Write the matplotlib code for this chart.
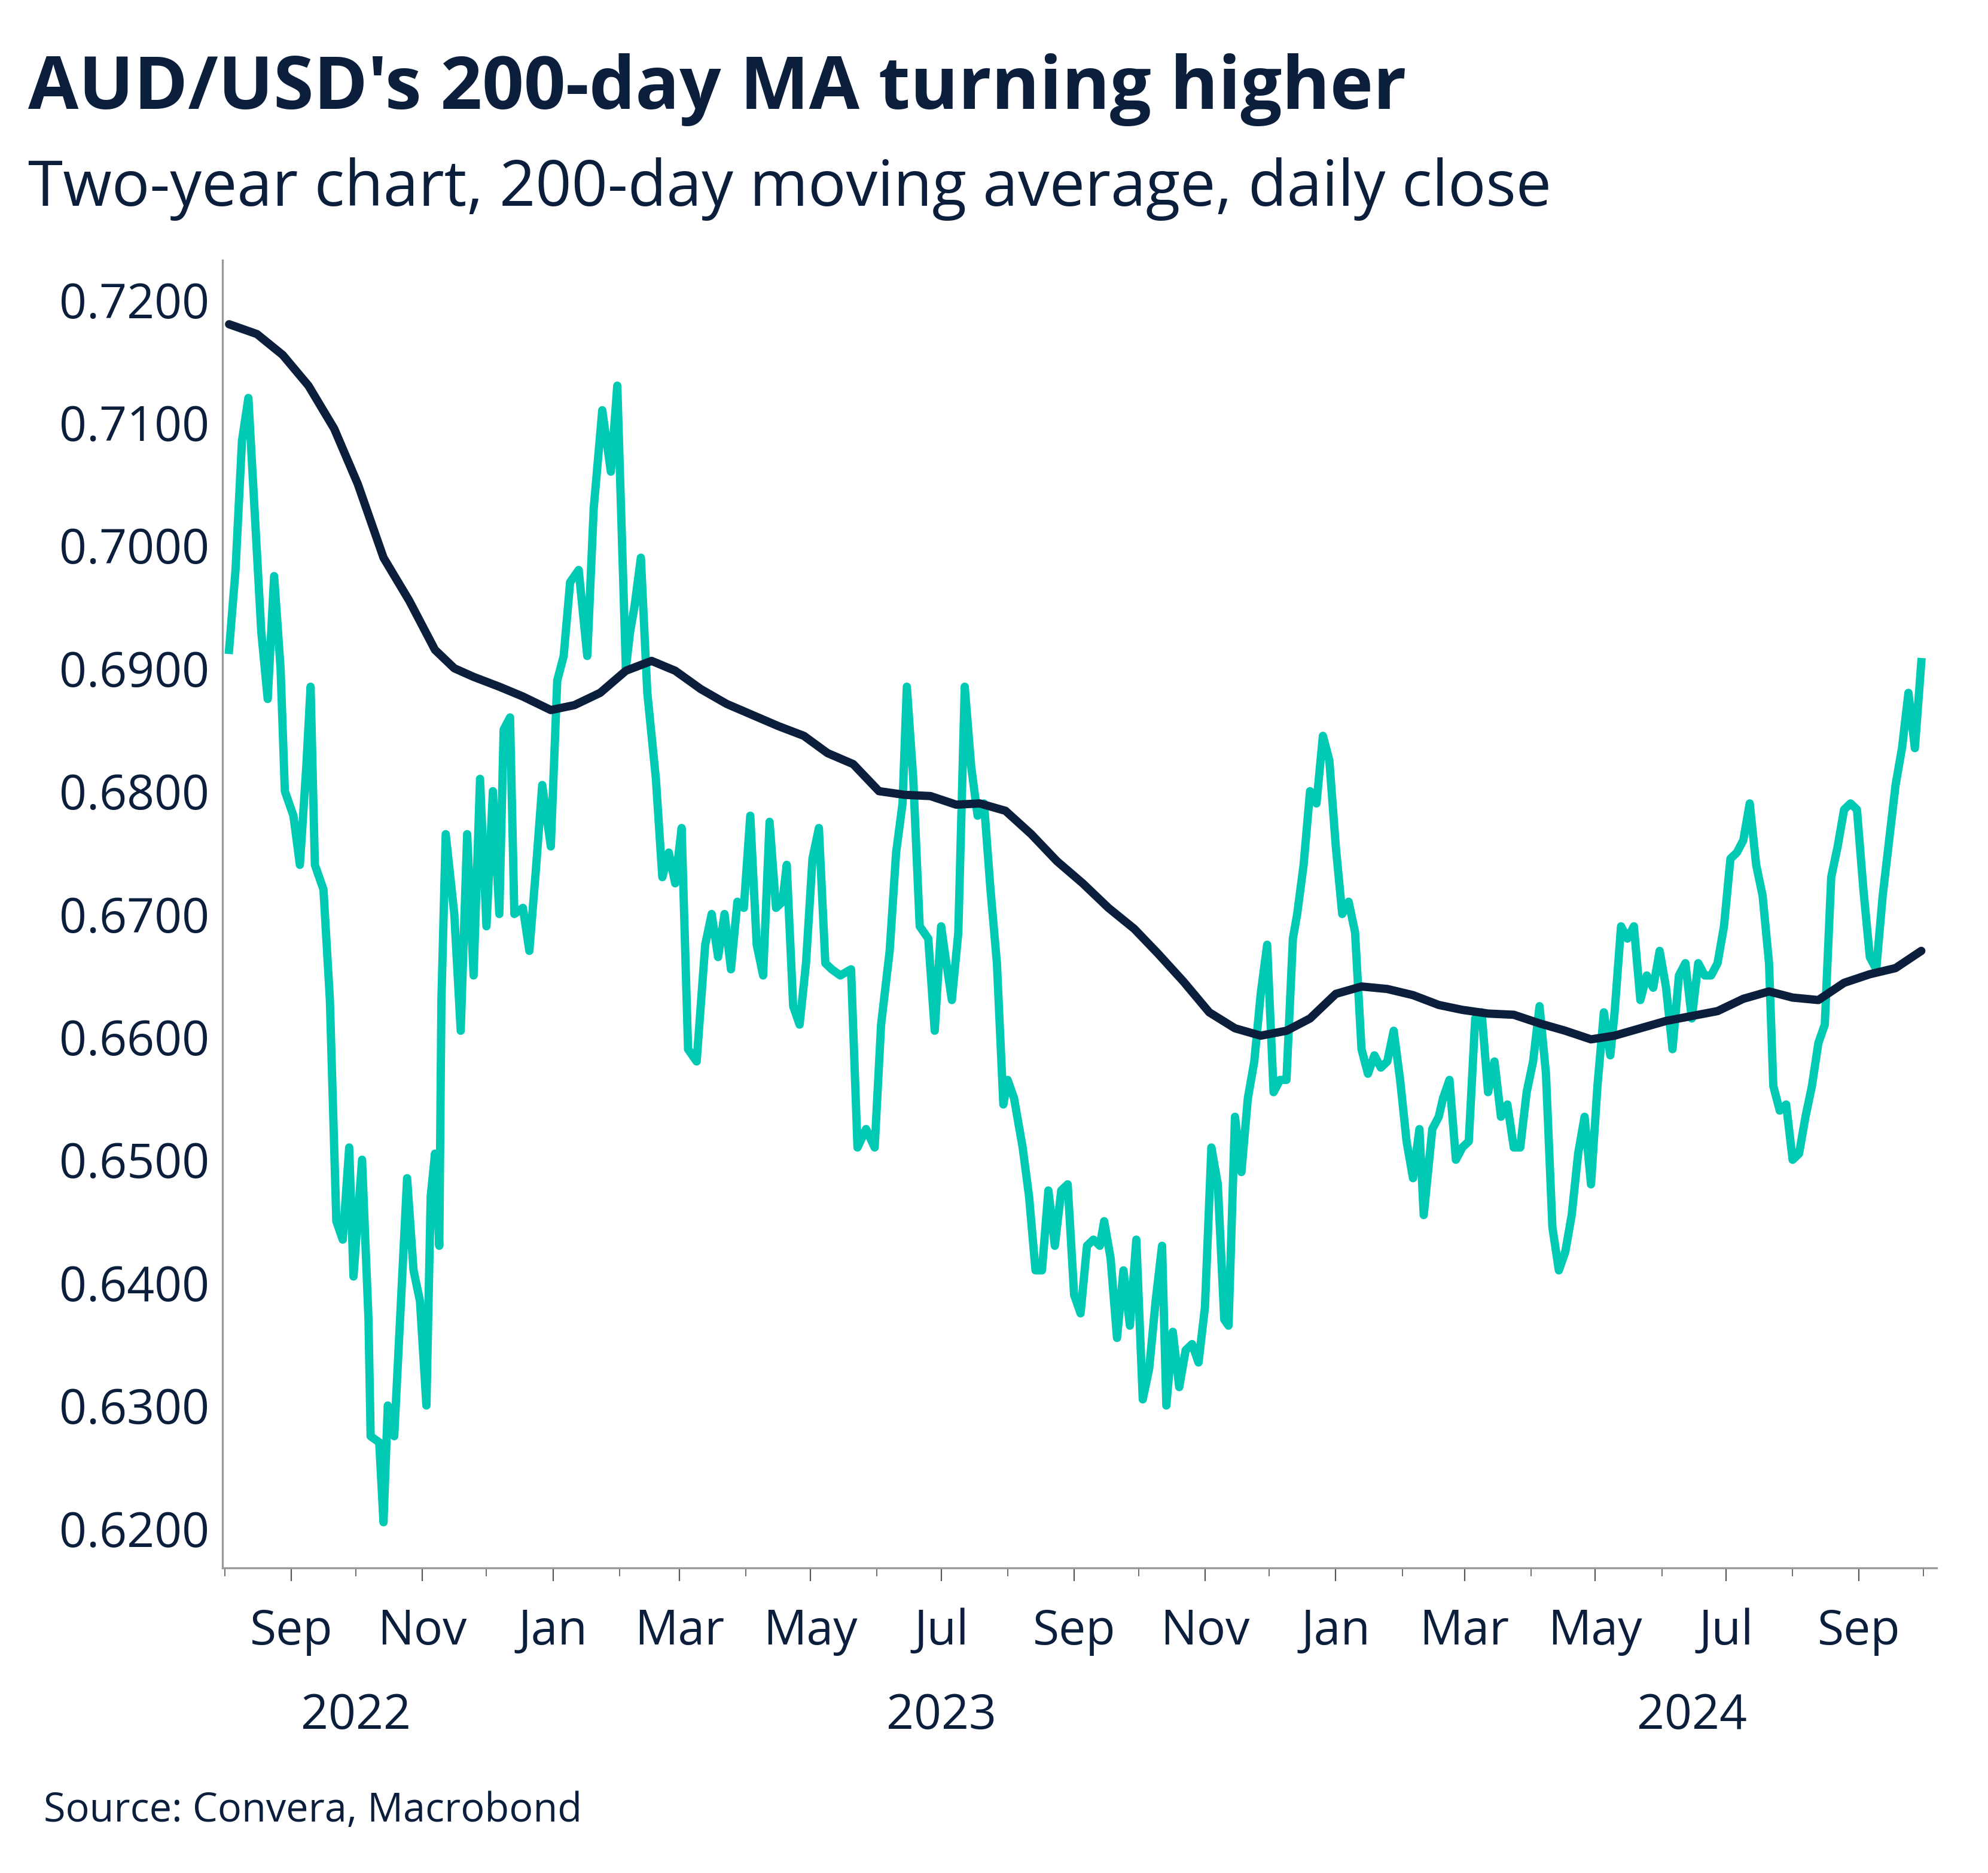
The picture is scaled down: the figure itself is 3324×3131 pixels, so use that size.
import matplotlib
matplotlib.use("Agg")
import matplotlib.pyplot as plt
import matplotlib.dates as mdates
import numpy as np
import pandas as pd

plt.rcParams['font.family'] = ['Open Sans', 'DejaVu Sans']

start = pd.Timestamp("2022-08-03")
close_days = [0,3,6,9,12,15,18,21,24,26,30,33,36,38,40,44,47,50,53,56,58,62,65,66,70,72,74,77,80,83,86,89,92,94,96,98,99,101,105,108,111,114,117,120,123,126,128,131,133,137,140,143,146,150,153,156,159,163,167,170,174,178,181,185,187,189,192,195,199,202,205,208,211,214,218,222,225,228,231,234,237,240,243,246,249,252,255,258,260,263,266,269,272,275,278,281,285,290,293,297,301,304,308,311,314,316,319,322,326,329,332,334,337,340,343,346,349,352,355,358,361,363,366,370,373,376,379,382,385,388,391,394,397,400,403,406,408,411,414,417,420,423,426,429,432,435,437,440,443,446,449,452,455,458,461,464,466,469,472,475,478,481,484,487,490,493,496,498,501,504,507,510,513,516,519,522,525,528,531,534,537,540,543,546,549,552,555,557,561,564,566,569,572,575,578,581,584,587,590,593,596,599,602,605,608,611,614,617,620,623,626,629,632,635,638,641,644,646,649,652,655,658,661,664,667,670,673,676,679,682,685,688,691,694,697,700,703,706,709,712,715,718,720,723,726,729,732,735,738,741,744,747,750,753,756,759,762,765,768,771,774,777,780,783,786,789]
close_vals = [0.6915,0.698,0.7085,0.712,0.7025,0.693,0.6875,0.6975,0.690,0.680,0.678,0.674,0.682,0.6885,0.674,0.672,0.663,0.645,0.6435,0.651,0.6405,0.650,0.637,0.6275,0.627,0.6205,0.630,0.6275,0.638,0.6485,0.641,0.6385,0.630,0.647,0.6505,0.643,0.663,0.6765,0.670,0.6605,0.6765,0.665,0.681,0.669,0.680,0.670,0.685,0.686,0.670,0.6705,0.667,0.6735,0.6805,0.6755,0.689,0.691,0.697,0.698,0.691,0.703,0.711,0.706,0.713,0.690,0.693,0.695,0.699,0.688,0.681,0.673,0.675,0.6725,0.677,0.659,0.658,0.6675,0.670,0.6665,0.670,0.6655,0.671,0.6705,0.678,0.6675,0.665,0.6775,0.6705,0.671,0.674,0.6625,0.661,0.666,0.6745,0.677,0.666,0.6655,0.665,0.6655,0.651,0.6525,0.651,0.661,0.667,0.675,0.679,0.6885,0.681,0.669,0.668,0.6605,0.669,0.6665,0.663,0.6685,0.6885,0.682,0.678,0.679,0.672,0.666,0.6545,0.6565,0.655,0.651,0.647,0.641,0.641,0.6475,0.643,0.6475,0.648,0.639,0.6375,0.643,0.6435,0.643,0.645,0.642,0.6355,0.641,0.6365,0.6435,0.6305,0.633,0.6385,0.643,0.630,0.636,0.6315,0.6345,0.635,0.6335,0.638,0.651,0.648,0.637,0.6365,0.6535,0.649,0.655,0.658,0.6635,0.6675,0.6555,0.6565,0.6565,0.668,0.670,0.674,0.680,0.679,0.6845,0.6825,0.6755,0.670,0.671,0.6685,0.659,0.657,0.6585,0.6575,0.658,0.6605,0.6565,0.6515,0.6485,0.6525,0.6455,0.6525,0.6535,0.655,0.6565,0.650,0.651,0.6515,0.6615,0.662,0.6555,0.658,0.6535,0.6545,0.651,0.651,0.6555,0.658,0.6625,0.657,0.6445,0.641,0.6425,0.6455,0.6505,0.6535,0.648,0.656,0.662,0.6585,0.662,0.669,0.668,0.669,0.663,0.665,0.664,0.667,0.664,0.659,0.665,0.666,0.6615,0.666,0.665,0.665,0.666,0.669,0.6745,0.675,0.676,0.679,0.674,0.6715,0.666,0.656,0.654,0.6545,0.650,0.6505,0.6535,0.656,0.6595,0.661,0.673,0.6755,0.6785,0.679,0.6785,0.672,0.6665,0.6655,0.6715,0.676,0.6805,0.6835,0.688,0.6835,0.6905]
ma_days = [0,13,25,37,49,60,72,84,96,105,114,126,137,150,161,173,185,197,208,220,232,244,256,268,279,291,303,315,327,339,350,362,374,386,398,410,422,433,445,457,469,481,493,504,516,528,540,552,564,575,587,599,611,623,635,646,658,670,682,694,706,718,729,741,753,765,777,789]
ma_vals = [0.718,0.7172,0.7155,0.713,0.7095,0.705,0.699,0.6955,0.6915,0.690,0.6893,0.6885,0.6877,0.6866,0.687,0.688,0.6898,0.6906,0.6898,0.6883,0.6871,0.6862,0.6853,0.6845,0.6831,0.6822,0.6800,0.6797,0.6796,0.6789,0.6790,0.6784,0.6765,0.6743,0.6725,0.6705,0.6688,0.6668,0.6645,0.662,0.6607,0.6601,0.6605,0.6615,0.6635,0.6641,0.6639,0.6634,0.6626,0.6622,0.6619,0.6618,0.6611,0.6605,0.6598,0.6601,0.6607,0.6613,0.6617,0.6621,0.6631,0.6637,0.6632,0.663,0.6644,0.6651,0.6656,0.667]

yticks = [0.62,0.63,0.64,0.65,0.66,0.67,0.68,0.69,0.70,0.71,0.72]
years = ["2022", "2023", "2024"]
year_centers = ["2022-10-01", "2023-07-01", "2024-06-15"]

green = "#00C9B4"
navy = "#0B1F3D"

cd = start + pd.to_timedelta(close_days, unit="D")
md = start + pd.to_timedelta(ma_days, unit="D")

fig = plt.figure(figsize=(16.62, 15.655), dpi=200)
ax = fig.add_axes([0.112, 0.163, 0.862, 0.698])
ax.plot(cd, close_vals, color=green, lw=5.0, solid_joinstyle="round")
ax.plot(md, ma_vals, color=navy, lw=5.0, solid_capstyle="round")

ax.set_ylim(0.6168, 0.7232)
ax.set_xlim(pd.Timestamp("2022-07-31"), pd.Timestamp("2024-10-07"))
ax.set_yticks(yticks)
ax.set_yticklabels([f"{v:.4f}" for v in yticks])
ax.xaxis.set_major_locator(mdates.MonthLocator(bymonth=[1,3,5,7,9,11]))
ax.xaxis.set_major_formatter(mdates.DateFormatter("%b"))
ax.xaxis.set_minor_locator(mdates.MonthLocator(bymonth=[2,4,6,8,10,12]))
for s in ["top", "right"]:
    ax.spines[s].set_visible(False)
for s in ["left", "bottom"]:
    ax.spines[s].set_color("#999999")
    ax.spines[s].set_linewidth(1.2)
ax.tick_params(axis="both", labelsize=29, colors=navy, labelcolor=navy)
ax.tick_params(axis="y", length=0, pad=8)
ax.tick_params(axis="x", which="major", length=8, color="#555555", pad=16)
ax.tick_params(axis="x", which="minor", length=5, color="#555555")
for y, c in zip(years, year_centers):
    ax.text(pd.Timestamp(c), -0.095, y, transform=ax.get_xaxis_transform(),
            ha="center", va="top", fontsize=29, color=navy)

fig.text(0.014, 0.952, "AUD/USD's 200-day MA turning higher", fontsize=44,
         fontweight="bold", color=navy, va="center")
fig.text(0.014, 0.899, "Two-year chart, 200-day moving average, daily close",
         fontsize=38, color=navy, va="center")
fig.text(0.022, 0.033, "Source: Convera, Macrobond", fontsize=24, color=navy, va="center")

fig.savefig("out.png", dpi=200)
